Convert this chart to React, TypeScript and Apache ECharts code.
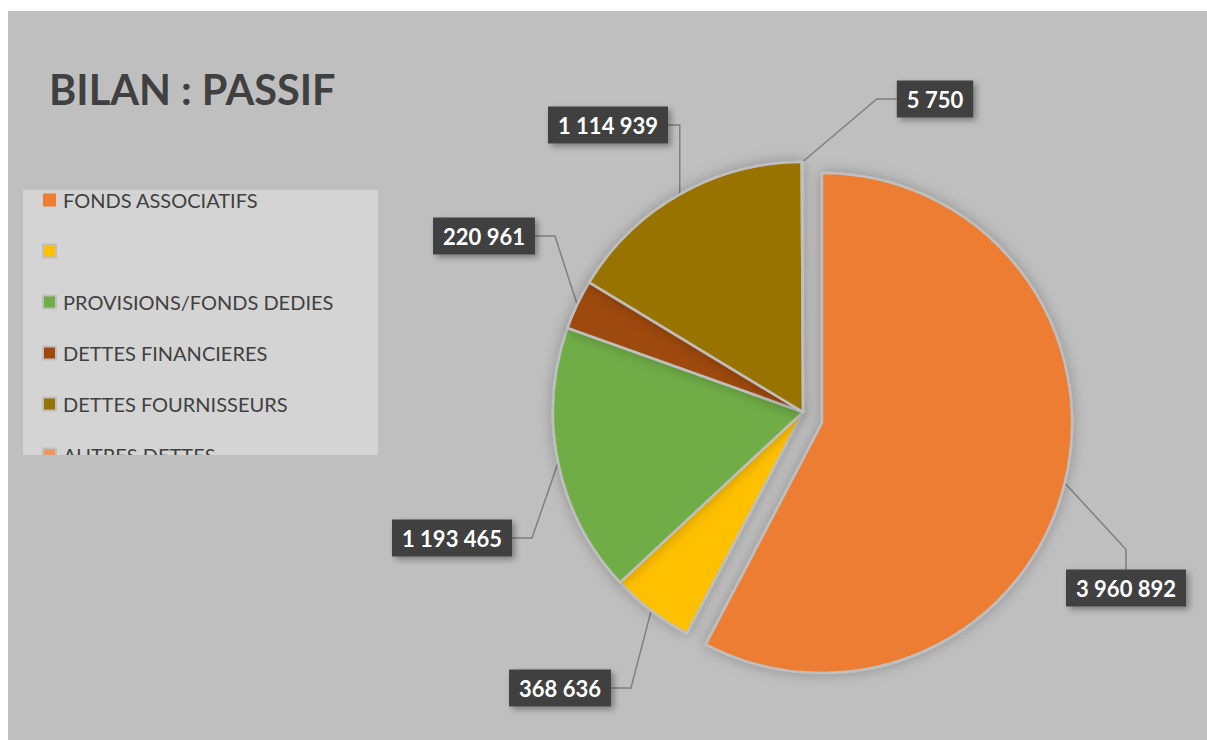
import React, { useEffect, useRef } from "react";
import * as echarts from "echarts";

const categories = [
  "FONDS ASSOCIATIFS",
  " ",
  "PROVISIONS/FONDS DEDIES",
  "DETTES FINANCIERES",
  "DETTES FOURNISSEURS",
  "AUTRES DETTES",
];
const values = [3960892, 368636, 1193465, 220961, 1114939, 5750];
const colors = ["#ED7D31", "#FFC000", "#70AD47", "#9E480E", "#997300", "#F1975A"];
const title = "BILAN : PASSIF";
const explodedIndex = 0;

// label box centres (px, chart-relative), one per slice
const labelPositions = [
  [1118, 577],
  [552, 677],
  [444, 527],
  [476, 225],
  [600, 114],
  [927, 88],
];

const fmt = (v: number) => String(v).replace(/\B(?=(\d{3})+(?!\d))/g, " ");

export default function App() {
  const ref = useRef<HTMLDivElement>(null);
  useEffect(() => {
    if (!ref.current) return;
    const chart = echarts.init(ref.current, undefined, { renderer: "svg" });

    const labelCommon = {
      show: true,
      position: "outside",
      formatter: (p: any) => fmt(p.value),
      fontFamily: "Lato",
      fontWeight: "bold",
      fontSize: 22,
      color: "#ffffff",
      backgroundColor: "#404040",
      padding: [8, 10, 7, 10],
      shadowBlur: 6,
      shadowOffsetX: 3,
      shadowOffsetY: 3,
      shadowColor: "rgba(0,0,0,0.35)",
    };
    const labelLineCommon = {
      show: true,
      length: 20,
      length2: 20,
      lineStyle: { color: "#7f7f7f", width: 1.5 },
    };
    const hiddenItem = {
      itemStyle: { color: "transparent", borderWidth: 0, shadowBlur: 0 },
      label: { show: false },
      labelLine: { show: false },
    };
    const makeSeries = (center: number[], showExploded: boolean) => ({
      type: "pie",
      center,
      radius: 250,
      startAngle: 90,
      clockwise: true,
      avoidLabelOverlap: false,
      silent: true,
      itemStyle: {
        borderColor: "#bfbfbf",
        borderWidth: 2.5,
        shadowBlur: 14,
        shadowColor: "rgba(0,0,0,0.25)",
      },
      emphasis: { disabled: true },
      label: labelCommon,
      labelLine: labelLineCommon,
      labelLayout: (params: any) => {
        const pos = labelPositions[params.dataIndex];
        return { x: pos[0], y: pos[1], align: "center", verticalAlign: "middle" };
      },
      data: categories.map((name, i) => {
        const visible = (i === explodedIndex) === showExploded;
        return visible
          ? { name, value: values[i], itemStyle: { color: colors[i] } }
          : { name, value: values[i], ...hiddenItem };
      }),
    });

    chart.setOption({
      animation: false,
      backgroundColor: "#bfbfbf",
      title: {
        text: title,
        left: 36,
        top: 52,
        textStyle: {
          fontFamily: "Lato",
          fontWeight: "bold",
          fontSize: 41.5,
          color: "#404040",
        },
      },
      graphic: [
        {
          type: "rect",
          z: 0,
          shape: { x: 15, y: 179, width: 355, height: 265 },
          style: { fill: "#d4d4d4" },
        },
        {
          type: "rect",
          z: 100,
          shape: { x: 10, y: 444, width: 370, height: 40 },
          style: { fill: "#bfbfbf" },
        },
      ],
      legend: {
        orient: "vertical",
        left: 34,
        top: 178,
        padding: 0,
        itemGap: 29,
        itemWidth: 13,
        itemHeight: 13,
        icon: "rect",
        selectedMode: false,
        z: 50,
        data: categories.map((name, i) => ({ name, itemStyle: { color: colors[i] } })),
        textStyle: {
          fontFamily: "Lato",
          fontSize: 20,
          color: "#404040",
          lineHeight: 22,
          padding: [0, 0, 0, 2],
        },
      },
      series: [makeSeries([795, 401], false), makeSeries([814, 412], true)],
    });
    return () => chart.dispose();
  }, []);
  return (
    <div
      ref={ref}
      style={{ position: "absolute", left: 8, top: 11, width: 1199, height: 729 }}
    />
  );
}
